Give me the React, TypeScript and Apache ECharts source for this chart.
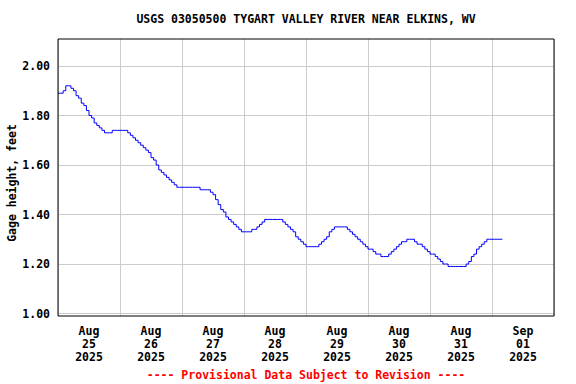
import React, { useEffect, useRef } from "react";
import * as echarts from "echarts";

const TITLE = "USGS 03050500 TYGART VALLEY RIVER NEAR ELKINS, WV";
const Y_NAME = "Gage height, feet";
const FOOTER = "---- Provisional Data Subject to Revision ----";

const dayLabels = [
  "Aug\n25\n2025",
  "Aug\n26\n2025",
  "Aug\n27\n2025",
  "Aug\n28\n2025",
  "Aug\n29\n2025",
  "Aug\n30\n2025",
  "Aug\n31\n2025",
  "Sep\n01\n2025",
];

// hourly gage height readings (feet), starting at 00:00 of each day
const aug25 = [1.89, 1.89, 1.90, 1.92, 1.92, 1.91, 1.90, 1.88, 1.87, 1.85, 1.84, 1.82, 1.80, 1.79, 1.77, 1.76, 1.75, 1.74, 1.73, 1.73, 1.73, 1.74, 1.74, 1.74];
const aug26 = [1.74, 1.74, 1.74, 1.73, 1.72, 1.71, 1.70, 1.69, 1.68, 1.67, 1.66, 1.65, 1.63, 1.62, 1.60, 1.58, 1.57, 1.56, 1.55, 1.54, 1.53, 1.52, 1.51, 1.51];
const aug27 = [1.51, 1.51, 1.51, 1.51, 1.51, 1.51, 1.51, 1.50, 1.50, 1.50, 1.50, 1.49, 1.48, 1.46, 1.44, 1.42, 1.41, 1.39, 1.38, 1.37, 1.36, 1.35, 1.34, 1.33];
const aug28 = [1.33, 1.33, 1.33, 1.34, 1.34, 1.35, 1.36, 1.37, 1.38, 1.38, 1.38, 1.38, 1.38, 1.38, 1.38, 1.37, 1.36, 1.35, 1.34, 1.33, 1.31, 1.30, 1.29, 1.28];
const aug29 = [1.27, 1.27, 1.27, 1.27, 1.27, 1.28, 1.29, 1.30, 1.31, 1.33, 1.34, 1.35, 1.35, 1.35, 1.35, 1.35, 1.34, 1.33, 1.32, 1.31, 1.30, 1.29, 1.28, 1.27];
const aug30 = [1.26, 1.26, 1.25, 1.24, 1.24, 1.23, 1.23, 1.23, 1.24, 1.25, 1.26, 1.27, 1.28, 1.29, 1.29, 1.30, 1.30, 1.30, 1.29, 1.28, 1.28, 1.27, 1.26, 1.25];
const aug31 = [1.24, 1.24, 1.23, 1.22, 1.21, 1.20, 1.20, 1.19, 1.19, 1.19, 1.19, 1.19, 1.19, 1.19, 1.20, 1.21, 1.23, 1.24, 1.26, 1.27, 1.28, 1.29, 1.30, 1.30];
const sep01 = [1.30, 1.30, 1.30, 1.30, 1.30];

const days = [aug25, aug26, aug27, aug28, aug29, aug30, aug31, sep01];

const yTicks = { min: 1.0, max: 2.0, step: 0.2 };

const FONT = "DejaVu Sans Mono";

export default function App() {
  const ref = useRef<HTMLDivElement>(null);

  useEffect(() => {
    if (!ref.current) return;
    const chart = echarts.init(ref.current, undefined, { renderer: "svg" });

    const data: [number, number][] = [];
    days.forEach((vals, d) => {
      vals.forEach((v, h) => data.push([d * 24 + h, v]));
    });

    const grid0 = { left: 58, right: 22, top: 39, bottom: 68 };
    const pxPerFoot = 247.5;
    const yMax = 2.0 + 27 / pxPerFoot;
    const yMin = yMax - 277 / pxPerFoot;

    const option: any = {
      animation: false,
      backgroundColor: "#ffffff",
      grid: [
        {
          ...grid0,
          show: true,
          borderColor: "#000000",
          borderWidth: 1,
          backgroundColor: "transparent",
          z: 5,
        },
        { left: 58, right: 22, top: 66, bottom: 70.5 },
      ],
      xAxis: [
        {
          type: "value",
          gridIndex: 0,
          min: 0,
          max: 192,
          interval: 24,
          axisLine: { show: false },
          axisTick: { show: false },
          axisLabel: { show: false },
          splitLine: { show: true, lineStyle: { color: "#cccccc", width: 1 } },
        },
        {
          type: "value",
          gridIndex: 1,
          min: 0,
          max: 1,
          show: false,
        },
        {
          type: "category",
          gridIndex: 0,
          position: "bottom",
          data: dayLabels,
          boundaryGap: true,
          axisLine: { show: false },
          axisTick: { show: false },
          splitLine: { show: false },
          axisLabel: {
            margin: 8,
            color: "#000",
            fontFamily: FONT,
            fontWeight: "bold",
            fontSize: 11.5,
            lineHeight: 13,
            interval: 0,
          },
        },
      ],
      yAxis: [
        {
          type: "value",
          gridIndex: 0,
          min: yMin,
          max: yMax,
          show: false,
          splitLine: { show: false },
        },
        {
          type: "value",
          gridIndex: 1,
          min: yTicks.min,
          max: yTicks.max,
          interval: yTicks.step,
          axisLine: { show: false },
          axisTick: { show: false },
          axisLabel: {
            margin: 8,
            color: "#000",
            fontFamily: FONT,
            fontWeight: "bold",
            fontSize: 11.5,
            formatter: (v: number) => v.toFixed(2),
          },
          splitLine: { show: true, lineStyle: { color: "#cccccc", width: 1 } },
        },
      ],
      series: [
        {
          type: "line",
          xAxisIndex: 0,
          yAxisIndex: 0,
          data,
          step: "end",
          showSymbol: false,
          symbol: "none",
          lineStyle: { color: "#0000ff", width: 1 },
          z: 3,
        },
      ],
      graphic: [
        {
          type: "text",
          x: 306,
          y: 19,
          style: {
            text: TITLE,
            fill: "#000",
            font: `bold 11.5px "${FONT}"`,
            align: "center",
            verticalAlign: "middle",
          },
        },
        {
          type: "text",
          x: 12,
          y: 183,
          rotation: Math.PI / 2,
          style: {
            text: Y_NAME,
            fill: "#000",
            font: `bold 11.5px "${FONT}"`,
            align: "center",
            verticalAlign: "middle",
          },
        },
        {
          type: "text",
          x: 306,
          y: 375,
          style: {
            text: FOOTER,
            fill: "#ff0000",
            font: `bold 11.5px "${FONT}"`,
            align: "center",
            verticalAlign: "middle",
          },
        },
      ],
    };

    chart.setOption(option);
    return () => chart.dispose();
  }, []);

  return (
    <div
      ref={ref}
      style={{ position: "absolute", left: 0, top: 0, width: 576, height: 384 }}
    />
  );
}
